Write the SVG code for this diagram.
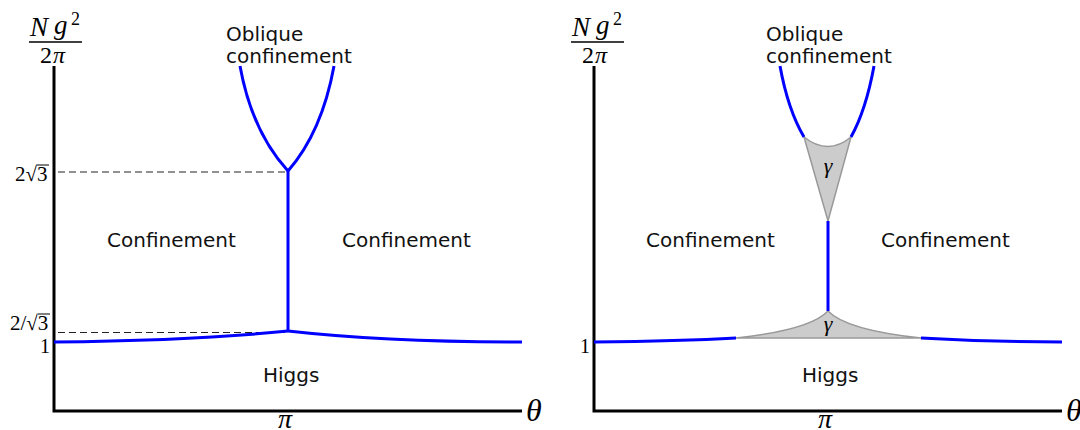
<svg xmlns="http://www.w3.org/2000/svg" width="1080" height="430" viewBox="0 0 1080 430">
<style>
.axis{stroke:#000;stroke-width:3;fill:none}
.blue{stroke:#0000ff;stroke-width:3;fill:none}
.dash{stroke:#222;stroke-width:1;stroke-dasharray:7,4;fill:none}
.gray{fill:#cccccc;stroke:#999999;stroke-width:1.5}
.lbl{font-family:"DejaVu Sans",sans-serif;font-size:20px;fill:#111}
.m{font-family:"Liberation Serif","Times New Roman",serif;font-style:italic;fill:#000}
.n{font-family:"Liberation Serif","Times New Roman",serif;fill:#000}
.bar{stroke:#000;stroke-width:1}
</style>
<rect width="1080" height="430" fill="#fff"/>
<!-- LEFT PANEL -->
<g id="left-axes">
<path class="axis" d="M54,66 L54,411 L522,411"/>
<g id="left-ylabel">
<text class="m" x="30" y="36" font-size="27">N</text>
<text class="m" x="54" y="34" font-size="27">g</text>
<text class="n" x="71" y="25" font-size="18">2</text>
<line x1="29" y1="42" x2="82" y2="42" stroke="#000" stroke-width="1.3"/>
<text class="n" x="40" y="63" font-size="24">2</text>
<text class="m" x="53" y="63" font-size="24">π</text>
</g>
<g id="left-ticks">
<text class="n" x="15" y="181" font-size="21">2√3</text>
<line class="bar" x1="37" y1="165" x2="49" y2="165"/>
<text class="n" x="10" y="330" font-size="21">2/√3</text>
<line class="bar" x1="38" y1="314" x2="50" y2="314"/>
<text class="n" x="40" y="353" font-size="20">1</text>
<text class="m" x="278" y="428" font-size="28">π</text>
<text class="m" x="526" y="421" font-size="32">θ</text>
</g>
</g>
<g id="left-connectors">
<path class="dash" d="M58,172 L288,172"/>
<path class="dash" d="M58,332.5 L288,332.5"/>
<path class="blue" d="M240,66 Q252,132 288,171"/>
<path class="blue" d="M334,66 Q322,132 288,171"/>
<path class="blue" d="M288,171 L288,331"/>
<path class="blue" d="M54,342 C150,341 230,337 288,331"/>
<path class="blue" d="M288,331 C350,338 420,342 522,342"/>
</g>
<g id="left-labels">
<text class="lbl" x="226" y="41">Oblique</text>
<text class="lbl" x="226" y="63">confinement</text>
<text class="lbl" x="107" y="247">Confinement</text>
<text class="lbl" x="342" y="247">Confinement</text>
<text class="lbl" x="263" y="382">Higgs</text>
</g>
<!-- RIGHT PANEL -->
<g id="right-axes">
<path class="axis" d="M594,66 L594,411 L1062,411"/>
<g id="right-ylabel">
<text class="m" x="572" y="36" font-size="27">N</text>
<text class="m" x="596" y="34" font-size="27">g</text>
<text class="n" x="613" y="25" font-size="18">2</text>
<line x1="571" y1="42" x2="624" y2="42" stroke="#000" stroke-width="1.3"/>
<text class="n" x="582" y="63" font-size="24">2</text>
<text class="m" x="595" y="63" font-size="24">π</text>
</g>
<text class="n" x="580" y="353" font-size="20">1</text>
<text class="m" x="818" y="428" font-size="28">π</text>
<text class="m" x="1066" y="421" font-size="32">θ</text>
</g>
<g id="gamma-top">
<path class="gray" d="M804,137 Q828,156 851,137 L828,221 Z"/>
<text class="m" x="828" y="173" font-size="22" text-anchor="middle">γ</text>
</g>
<g id="gamma-bottom">
<path class="gray" d="M736,338 Q810,330 828,311 Q846,330 921,338 Z"/>
<text class="m" x="828" y="331" font-size="22" text-anchor="middle">γ</text>
</g>
<g id="right-connectors">
<path class="blue" d="M780,66 Q788,110 804,137"/>
<path class="blue" d="M874,66 Q866,110 851,137"/>
<path class="blue" d="M828,221 L828,311"/>
<path class="blue" d="M594,342 Q680,341 736,338"/>
<path class="blue" d="M921,338 Q990,342 1062,342"/>
</g>
<g id="right-labels">
<text class="lbl" x="766" y="41">Oblique</text>
<text class="lbl" x="766" y="63">confinement</text>
<text class="lbl" x="646" y="247">Confinement</text>
<text class="lbl" x="881" y="247">Confinement</text>
<text class="lbl" x="802" y="382">Higgs</text>
</g>
</svg>
